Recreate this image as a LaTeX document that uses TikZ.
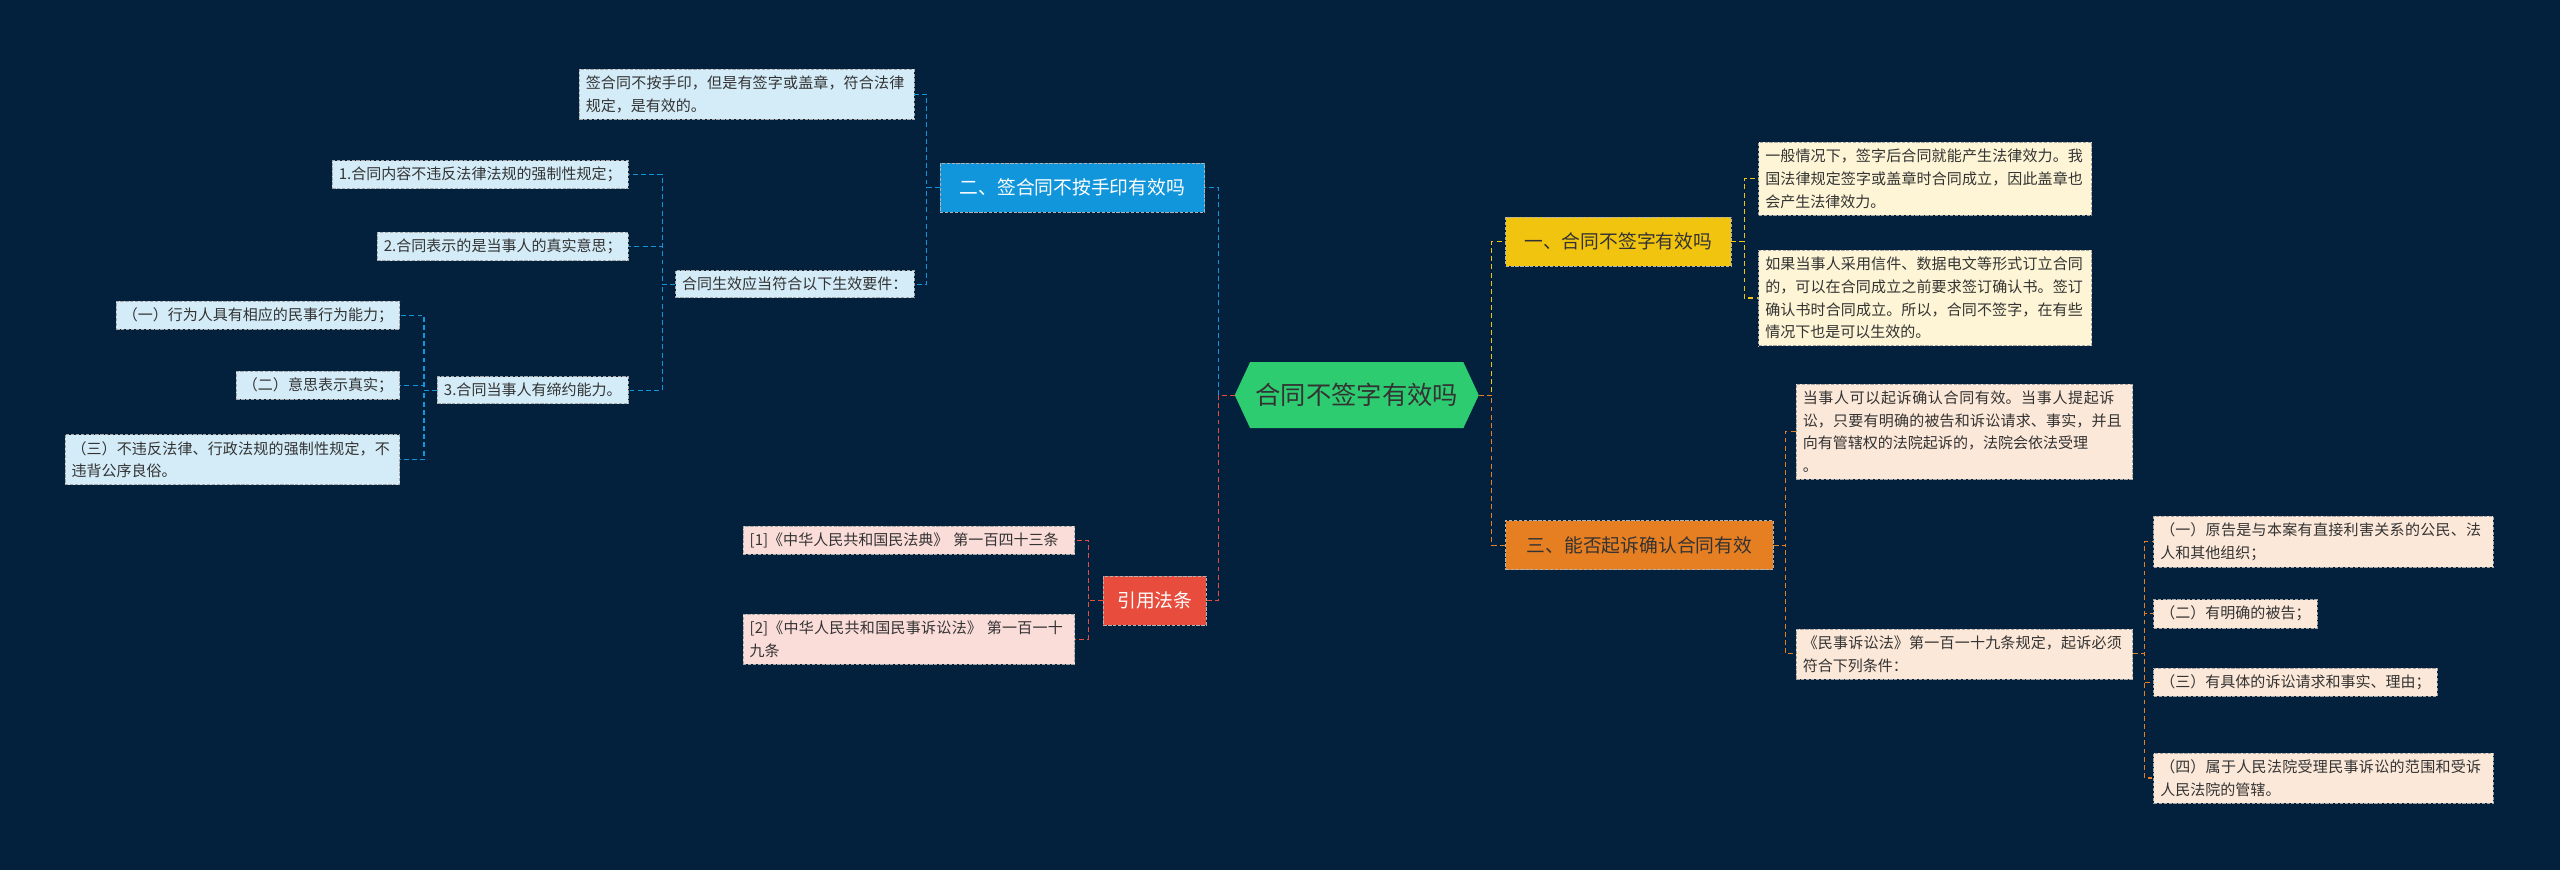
\documentclass[tikz,border=0pt]{standalone}
\usepackage{fontspec}
\setmainfont{Noto Sans CJK SC}
\XeTeXlinebreaklocale "zh"
\XeTeXlinebreakskip=0pt plus 1pt
\usetikzlibrary{shapes.symbols}
\definecolor{bg}{HTML}{03203D}
\definecolor{cgreen}{HTML}{2ECC71}
\definecolor{cyel}{HTML}{F1C40F}
\definecolor{cora}{HTML}{E67E22}
\definecolor{cblue}{HTML}{1296DB}
\definecolor{cred}{HTML}{E74C3C}
\definecolor{lblue}{HTML}{D3ECF8}
\definecolor{lyel}{HTML}{FDF5D5}
\definecolor{lora}{HTML}{FCE8D8}
\definecolor{lred}{HTML}{FADCD9}
\definecolor{ltxt}{HTML}{333333}
\tikzset{
 leaf/.style={draw=gray!70, dashed, dash pattern=on 2pt off 1pt, text=ltxt, inner sep=4pt, align=left, font=\fontsize{9.2}{14}\selectfont},
 branch/.style={inner sep=4pt, text=white, font=\fontsize{11.5}{13}\selectfont, minimum height=30pt, draw=gray!60, dashed, dash pattern=on 2pt off 1pt},
 conn/.style={dashed, dash pattern=on 3pt off 2pt, line width=0.7pt},
}
\begin{document}
\begin{tikzpicture}[x=1pt,y=-1pt]
\fill[bg] (0,0) rectangle (1568,533);
\useasboundingbox (0,0) rectangle (1568,533);
% center
\node[signal, signal to=east and west, signal pointer angle=130, fill=cgreen, draw=cgreen, minimum width=149pt, minimum height=40pt, inner sep=2pt, font=\fontsize{15.5}{17}\selectfont, text=ltxt] (c) at (831,242) {合同不签字有效吗};
% branches
\node[branch, fill=cyel, text=ltxt, anchor=west, minimum width=138pt] (y) at (922,148) {一、合同不签字有效吗};
\node[branch, fill=cora, anchor=west, minimum width=164pt, text=ltxt] (o) at (922,334) {三、能否起诉确认合同有效};
\node[branch, fill=cblue, anchor=east, minimum width=162pt] (b) at (738,115) {二、签合同不按手印有效吗};
\node[branch, fill=cred, anchor=east, minimum width=63pt] (r) at (739,368) {引用法条};
% yellow leaves
\node[leaf, fill=lyel, anchor=north west, text width=196pt] (y1) at (1077,87) {一般情况下，签字后合同就能产生法律效力。我国法律规定签字或盖章时合同成立，因此盖章也会产生法律效力。};
\node[leaf, fill=lyel, anchor=north west, text width=196pt] (y2) at (1077,153) {如果当事人采用信件、数据电文等形式订立合同的，可以在合同成立之前要求签订确认书。签订确认书时合同成立。所以，合同不签字，在有些情况下也是可以生效的。};
% orange leaves
\node[leaf, fill=lora, anchor=north west, text width=198pt] (o1) at (1100,235) {当事人可以起诉确认合同有效。当事人提起诉讼，只要有明确的被告和诉讼请求、事实，并且向有管辖权的法院起诉的，法院会依法受理\\。};
\node[leaf, fill=lora, anchor=north west, text width=198pt] (o2) at (1100,385) {《民事诉讼法》第一百一十九条规定，起诉必须符合下列条件：};
\node[leaf, fill=lora, anchor=north west, text width=200pt] (o21) at (1319,316) {（一）原告是与本案有直接利害关系的公民、法人和其他组织；};
\node[leaf, fill=lora, anchor=north west] (o22) at (1319,367) {（二）有明确的被告；};
\node[leaf, fill=lora, anchor=north west] (o23) at (1319,409) {（三）有具体的诉讼请求和事实、理由；};
\node[leaf, fill=lora, anchor=north west, text width=200pt] (o24) at (1319,461) {（四）属于人民法院受理民事诉讼的范围和受诉人民法院的管辖。};
% blue leaves
\node[leaf, fill=lblue, anchor=north east, text width=197pt] (b1) at (560,42) {签合同不按手印，但是有签字或盖章，符合法律规定，是有效的。};
\node[leaf, fill=lblue, anchor=east] (b2) at (560,174) {合同生效应当符合以下生效要件：};
\node[leaf, fill=lblue, anchor=east] (b21) at (385,107) {1.合同内容不违反法律法规的强制性规定；};
\node[leaf, fill=lblue, anchor=east] (b22) at (385,151) {2.合同表示的是当事人的真实意思；};
\node[leaf, fill=lblue, anchor=east] (b23) at (385,239) {3.合同当事人有缔约能力。};
\node[leaf, fill=lblue, anchor=east] (b231) at (245,193) {（一）行为人具有相应的民事行为能力；};
\node[leaf, fill=lblue, anchor=east] (b232) at (245,236) {（二）意思表示真实；};
\node[leaf, fill=lblue, anchor=north east, text width=197pt] (b233) at (245,266) {（三）不违反法律、行政法规的强制性规定，不违背公序良俗。};
% red leaves
\node[leaf, fill=lred, anchor=north west, text width=195pt] (r1) at (455,322) {[1]《中华人民共和国民法典》 第一百四十三条};
\node[leaf, fill=lred, anchor=north west, text width=195pt] (r2) at (455,376) {[2]《中华人民共和国民事诉讼法》 第一百一十九条};
% connectors
\draw[conn, cyel] (c.east) -- ++(8,0) |- (y.west);
\draw[conn, cora] (c.east) -- ++(8,0) |- (o.west);
\draw[conn, cblue] (c.west) -- ++(-10,0) |- (b.east);
\draw[conn, cred] (c.west) -- ++(-10,0) |- (r.east);
\draw[conn, cyel] (y.east) -- ++(8,0) |- (y1.west);
\draw[conn, cyel] (y.east) -- ++(8,0) |- (y2.west);
\draw[conn, cora] (o.east) -- ++(7,0) |- (o1.west);
\draw[conn, cora] (o.east) -- ++(7,0) |- (o2.west);
\foreach \n in {o21,o22,o23,o24}{\draw[conn, cora] (o2.east) -- ++(7,0) |- (\n.west);}
\draw[conn, cblue] (b.west) -- ++(-8,0) |- (b1.east);
\draw[conn, cblue] (b.west) -- ++(-8,0) |- (b2.east);
\foreach \n in {b21,b22,b23}{\draw[conn, cblue] (b2.west) -- ++(-8,0) |- (\n.east);}
\foreach \n in {b231,b232,b233}{\draw[conn, cblue] (b23.west) -- ++(-8,0) |- (\n.east);}
\draw[conn, cred] (r.west) -- ++(-9,0) |- (r1.east);
\draw[conn, cred] (r.west) -- ++(-9,0) |- (r2.east);
\end{tikzpicture}
\end{document}
